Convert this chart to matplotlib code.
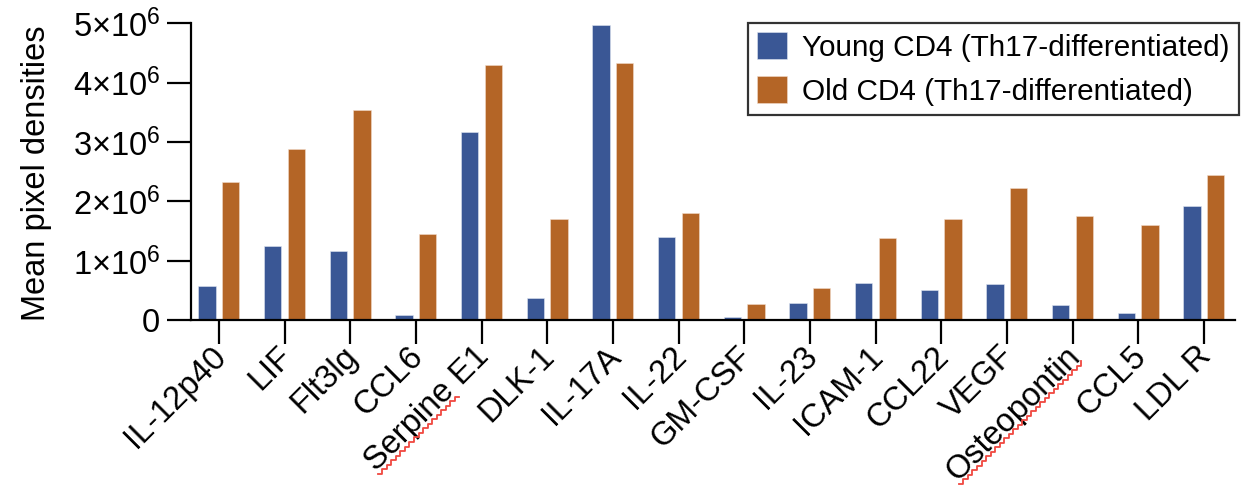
import numpy as np
import matplotlib
matplotlib.use("Agg")
import matplotlib.pyplot as plt
from matplotlib.lines import Line2D
from matplotlib.transforms import IdentityTransform, ScaledTranslation

# Cytokine array readout, Th17-differentiated CD4 T cells
categories = ["IL-12p40", "LIF", "Flt3lg", "CCL6", "Serpine E1", "DLK-1",
              "IL-17A", "IL-22", "GM-CSF", "IL-23", "ICAM-1", "CCL22",
              "VEGF", "Osteopontin", "CCL5", "LDL R"]
young = [0.58e6, 1.26e6, 1.17e6, 0.09e6, 3.16e6, 0.37e6, 4.96e6, 1.41e6,
         0.05e6, 0.29e6, 0.63e6, 0.51e6, 0.62e6, 0.26e6, 0.13e6, 1.92e6]
old = [2.32e6, 2.89e6, 3.54e6, 1.46e6, 4.29e6, 1.70e6, 4.33e6, 1.80e6,
       0.28e6, 0.55e6, 1.38e6, 1.70e6, 2.22e6, 1.76e6, 1.60e6, 2.44e6]
series_names = ["Young CD4 (Th17-differentiated)", "Old CD4 (Th17-differentiated)"]
y_ticks = [0, 1e6, 2e6, 3e6, 4e6, 5e6]
y_ticklabels = ["0", r"$\mathregular{1{\times}10^{6}}$", r"$\mathregular{2{\times}10^{6}}$",
                r"$\mathregular{3{\times}10^{6}}$", r"$\mathregular{4{\times}10^{6}}$",
                r"$\mathregular{5{\times}10^{6}}$"]
flagged_words = {"Serpine E1": "Serpine", "Osteopontin": "Osteopontin"}

plt.rcParams["font.family"] = ["Liberation Sans", "DejaVu Sans"]
plt.rcParams["mathtext.fontset"] = "custom"
plt.rcParams["mathtext.rm"] = "Liberation Sans"
plt.rcParams["mathtext.it"] = "Liberation Sans:italic"
plt.rcParams["mathtext.bf"] = "Liberation Sans:bold"

BLUE = "#3A5795"
ORANGE = "#B46526"
FS_XT = 23.5
FS_YT = 23.5
FS_LAB = 23.5
FS_LEG = 21.4

fig = plt.figure(figsize=(12.43, 4.90), dpi=100)
ax = fig.add_axes([0.1534, 0.346, 0.840, 0.607])

x = np.arange(len(categories))
bw = 0.265
off = 0.18
ax.bar(x - off, young, bw, color=BLUE, edgecolor="#dfe6f2", linewidth=0.4,
       label=series_names[0], zorder=2)
ax.bar(x + off, old, bw, color=ORANGE, edgecolor="#f2dccb", linewidth=0.4,
       label=series_names[1], zorder=2)

ax.set_xlim(-0.43, len(categories) - 1 + 0.47)
ax.set_ylim(0, 5e6)
ax.set_yticks(y_ticks)
ax.set_yticklabels(y_ticklabels, fontsize=FS_YT)
ax.set_xticks(x)
ax.set_xticklabels(categories, fontsize=FS_XT, rotation=45, ha="right",
                   va="center", rotation_mode="anchor")
ax.set_ylabel("Mean pixel densities", fontsize=FS_LAB)
ax.yaxis.set_label_coords(-0.133, 0.494)

for side in ("top", "right"):
    ax.spines[side].set_visible(False)
for side in ("left", "bottom"):
    ax.spines[side].set_linewidth(1.6)
ax.tick_params(axis="both", direction="out", length=17, width=1.6,
               color="black", labelcolor="black")
ax.tick_params(axis="y", pad=5)
ax.tick_params(axis="x", pad=5.5)

# nudge rotated category labels so their ends sit at the tick marks
shift = ScaledTranslation(2 / 72, 0, fig.dpi_scale_trans)
for lab in ax.get_xticklabels():
    lab.set_transform(lab.get_transform() + shift)

leg = ax.legend(loc="upper right", bbox_to_anchor=(1238.7 / 1243, 1 - 23 / 490),
                bbox_transform=fig.transFigure, borderaxespad=0, fontsize=FS_LEG,
                frameon=True, fancybox=False, edgecolor="black",
                handlelength=1.03, handleheight=1.03, handletextpad=0.5,
                labelspacing=0.48, borderpad=0.3)
leg.get_frame().set_linewidth(1.6)

# red wavy spell-check underline beneath flagged words of the labels
fig.canvas.draw()
renderer = fig.canvas.get_renderer()
ang = np.deg2rad(45)
u = np.array([np.cos(ang), np.sin(ang)])
n = np.array([np.sin(ang), -np.cos(ang)])
for lab in ax.get_xticklabels():
    txt = lab.get_text()
    if txt not in flagged_words:
        continue
    prop = lab.get_fontproperties()
    w_full, h_full, d_full = renderer.get_text_width_height_descent(txt, prop, ismath=False)
    w_word, _, _ = renderer.get_text_width_height_descent(flagged_words[txt], prop, ismath=False)
    anchor = np.array(lab.get_transform().transform(lab.get_position()))
    start = anchor - w_full * u
    base = start + (h_full / 2 - d_full + 4.0) * n
    step = 3.2
    k = int(w_word / step)
    ts = np.arange(k + 1) * step
    amp = np.where(np.arange(k + 1) % 2 == 0, -1.6, 1.6)
    pts = base[None, :] + ts[:, None] * u[None, :] + amp[:, None] * n[None, :]
    fig.add_artist(Line2D(pts[:, 0], pts[:, 1], transform=IdentityTransform(),
                          color="#F04840", linewidth=1.3))

fig.savefig("out.png", dpi=100)
